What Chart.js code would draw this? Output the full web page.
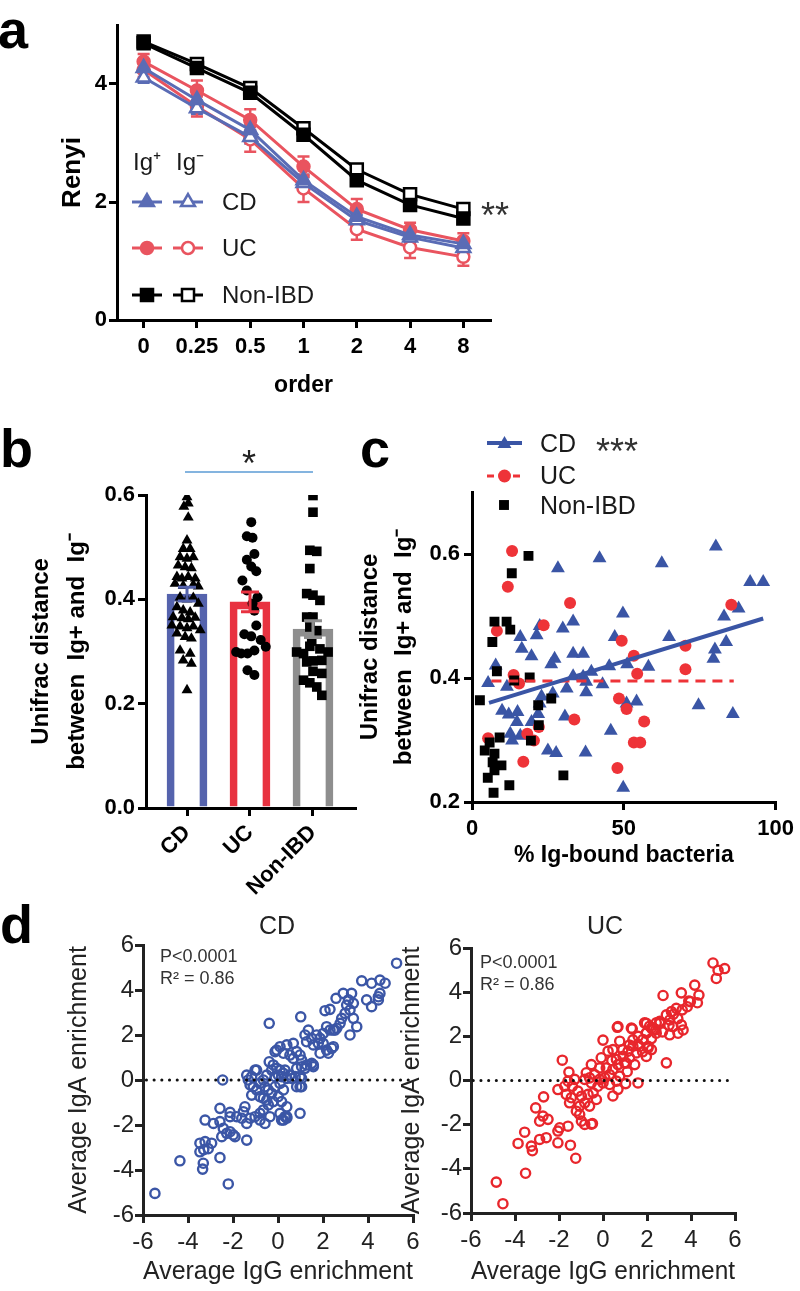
<!DOCTYPE html>
<html>
<head>
<meta charset="utf-8">
<script src="https://cdn.jsdelivr.net/npm/chart.js@4.4.0/dist/chart.umd.min.js"></script>
<style>
  body { margin: 0; background: #fff; }
  #page { position: relative; width: 800px; height: 1291px; overflow: hidden;
          font-family: "Liberation Sans", Arial, Helvetica, sans-serif; }
  canvas { position: absolute; }
  .letter { position: absolute; font-weight: bold; font-size: 54px; line-height: 54px; color: #000; }
</style>
</head>
<body>
<div id="page">
  <canvas id="chartA" width="620" height="400" style="left:0;top:0"></canvas>
  <canvas id="chartB" width="380" height="470" style="left:0;top:440px"></canvas>
  <canvas id="chartC" width="450" height="450" style="left:350px;top:420px"></canvas>
  <canvas id="chartCD" width="430" height="391" style="left:0;top:900px"></canvas>
  <canvas id="chartUC" width="400" height="391" style="left:400px;top:900px"></canvas>
  <div class="letter" style="left:-2px;top:2px">a</div>
  <div class="letter" style="left:0;top:421px">b</div>
  <div class="letter" style="left:360px;top:421px">c</div>
  <div class="letter" style="left:0;top:897px">d</div>
</div>
<script>
// ---- panel a : Renyi diversity by order
const orders = ['0', '0.25', '0.5', '1', '2', '4', '8'];
const cdIgPos  = [4.27, 3.73, 3.22, 2.37, 1.75, 1.44, 1.29];
const cdIgNeg  = [4.11, 3.59, 3.10, 2.32, 1.69, 1.40, 1.22];
const ucIgPos  = [4.38, 3.89, 3.39, 2.60, 1.88, 1.53, 1.34];
const ucIgNeg  = [4.24, 3.62, 3.06, 2.23, 1.54, 1.23, 1.07];
const nonIgPos = [4.69, 4.27, 3.85, 3.14, 2.37, 1.95, 1.72];
const nonIgNeg = [4.72, 4.34, 3.93, 3.25, 2.55, 2.13, 1.88];
const cdPosErr  = [0.08, 0.08, 0.09, 0.09, 0.08, 0.07, 0.07];
const cdNegErr  = [0.09, 0.10, 0.11, 0.10, 0.09, 0.08, 0.08];
const ucPosErr  = [0.13, 0.17, 0.18, 0.17, 0.17, 0.12, 0.13];
const ucNegErr  = [0.12, 0.17, 0.21, 0.23, 0.18, 0.18, 0.15];
const nonPosErr = [0.05, 0.05, 0.05, 0.05, 0.05, 0.05, 0.05];
const nonNegErr = [0.05, 0.05, 0.05, 0.05, 0.05, 0.05, 0.05];

// ---- panel b : unifrac distance per group
const groups = ['CD', 'UC', 'Non-IBD'];
const groupMeans = [0.410, 0.395, 0.343];
const groupErrs  = [0.013, 0.019, 0.016];
const cdDist = [0.596, 0.584, 0.578, 0.557, 0.513, 0.497, 0.497, 0.481, 0.478, 0.481, 0.465, 0.462,
  0.460, 0.443, 0.440, 0.443, 0.440, 0.430, 0.426, 0.428, 0.425, 0.404, 0.400, 0.403, 0.392, 0.385,
  0.379, 0.375, 0.366, 0.364, 0.362, 0.365, 0.350, 0.348, 0.345, 0.348, 0.341, 0.335, 0.328, 0.325,
  0.302, 0.296, 0.283, 0.277, 0.226];
const cdJitter = [0, 0.02, -0.05, 0.02, 0, -0.06, 0.05, -0.11, 0, 0.10, -0.14, -0.03,
  0.07, -0.16, -0.08, 0.02, 0.13, -0.19, -0.06, 0.10, 0.18, -0.11, 0, 0.10, 0.18, -0.16,
  -0.06, 0.05, -0.22, -0.08, 0.02, 0.13, -0.24, -0.11, 0, 0.10, 0.21, -0.16, -0.03, 0.07,
  -0.11, 0.05, -0.06, 0.07, 0];
const ucDist = [0.548, 0.521, 0.518, 0.487, 0.476, 0.463, 0.454, 0.436, 0.417, 0.404, 0.392, 0.378,
  0.350, 0.333, 0.329, 0.322, 0.309, 0.299, 0.296, 0.296, 0.302, 0.264, 0.255];
const ucJitter = [0.02, -0.05, 0.04, 0.07, -0.05, 0.02, 0.10, -0.12, -0.05, 0.12, 0.04, 0.07,
  0.10, -0.09, 0.02, 0.17, 0.25, -0.22, -0.14, -0.04, 0.07, -0.04, 0.07];
const nonDist = [0.599, 0.567, 0.494, 0.492, 0.459, 0.411, 0.408, 0.398, 0.366, 0.366, 0.347, 0.340,
  0.299, 0.296, 0.310, 0.305, 0.299, 0.280, 0.282, 0.283, 0.245, 0.240, 0.232, 0.216, 0.262, 0.258, 0.320];
const nonJitter = [0, 0, -0.05, 0.06, -0.05, -0.10, 0, 0.11, -0.10, 0, -0.05, 0.06,
  -0.26, -0.15, -0.05, 0.11, 0.24, -0.10, 0, 0.14, -0.15, -0.05, 0.06, 0.14, 0, 0.14, -0.02];

// ---- panel c : unifrac distance vs % Ig-bound bacteria  [x %, y distance]
const cdBound = [[80.3,0.612],[42,0.593],[62.5,0.585],[28.3,0.577],[91.6,0.555],[95.9,0.555],[87.8,0.512],
  [83,0.499],[49.7,0.504],[33.3,0.491],[29.9,0.48],[22.3,0.484],[21.3,0.469],[15.9,0.466],[47,0.466],
  [64.9,0.466],[83.7,0.458],[80,0.446],[79.5,0.431],[16.4,0.447],[19.6,0.435],[33.3,0.439],[36.6,0.439],
  [27.2,0.431],[26.1,0.422],[7.8,0.42],[45.2,0.419],[51.1,0.422],[58.1,0.418],[39.3,0.41],[33.3,0.403],
  [36.6,0.402],[37.6,0.394],[5.3,0.392],[11.5,0.386],[31.2,0.383],[43,0.39],[37.6,0.377],[26.6,0.375],
  [22.9,0.37],[22.3,0.359],[50.9,0.359],[54.2,0.362],[74.6,0.356],[85.9,0.342],[9.9,0.347],[12.1,0.341],
  [15,0.345],[21.8,0.342],[30.6,0.338],[14.8,0.329],[19.6,0.329],[45.7,0.315],[12.6,0.31],[15.9,0.307],
  [13.2,0.299],[25,0.283],[27.7,0.279],[37.4,0.28],[49.8,0.223]];
const ucBound = [[13.2,0.605],[11.8,0.547],[32.3,0.521],[85.4,0.518],[23.6,0.485],[8.2,0.476],[49.3,0.46],
  [70.3,0.452],[53.3,0.436],[70.3,0.414],[54.4,0.407],[13.7,0.405],[15.5,0.391],[48.4,0.367],[50.9,0.35],
  [33.7,0.333],[56.7,0.33],[22,0.321],[5.3,0.303],[18.2,0.31],[20.4,0.299],[53.3,0.296],[55.4,0.296],
  [16.9,0.265],[47.9,0.255]];
const nonBound = [[18.6,0.597],[13.1,0.569],[7.4,0.491],[11.4,0.491],[12.6,0.478],[6.7,0.458],[8.2,0.411],
  [19,0.401],[13.9,0.396],[2.6,0.364],[26.1,0.367],[21.8,0.356],[22,0.324],[19.4,0.299],[9.1,0.304],
  [5.8,0.296],[4.2,0.283],[7.4,0.278],[6.8,0.264],[9.7,0.259],[7.4,0.251],[5.2,0.239],[12.3,0.227],
  [7.1,0.215],[30.1,0.243]];
const cdFit = [[5.6, 0.36], [95.9, 0.496]];
const ucFit = [[6.4, 0.395], [86.2, 0.395]];

// ---- panel d : IgA vs IgG enrichment  [IgG, IgA]
const cdEnrich = [[-0.39,2.52],[1.01,2.81],[2.58,3.63],[2.09,3.08],[2.31,3.14],[2.16,2.37],[2.46,2.22],[2.61,2.30],
  [1.35,2.22],[1.20,2.00],[1.50,1.85],[1.72,2.00],[1.87,1.85],[1.57,1.56],[1.79,1.63],[2.01,1.63],[2.16,1.33],
  [2.39,1.41],[2.24,1.19],[1.27,1.70],[0.68,1.63],[0.39,1.56],[0.09,1.48],[-0.13,1.26],[-0.06,1.33],[0.24,1.19],
  [0.53,1.11],[0.83,1.26],[0.98,1.11],[0.68,0.96],[1.05,0.89],[1.27,0.67],[1.57,0.67],[1.20,0.52],[0.83,0.52],
  [0.76,0.15],[1.05,0.07],[0.98,-0.30],[0.83,-0.30],[0.61,0.07],[-0.39,0.81],[-0.21,0.67],[-0.06,0.52],[0.09,0.44],
  [0.24,0.30],[0.01,0.22],[-0.13,0.15],[0.16,0.15],[0.39,0.07],[0.53,0.22],[0.31,0.44],[-0.28,0.44],[-0.50,0.22],
  [-0.65,0.00],[-0.80,-0.15],[-0.58,-0.30],[-0.43,-0.44],[-0.28,-0.59],[-0.13,-0.30],[0.09,-0.15],[0.24,-0.44],
  [0.01,-0.74],[-0.21,-0.96],[-0.43,-1.11],[-0.65,-1.33],[-0.80,-1.48],[-1.02,0.44],[-1.17,0.15],[-1.32,0.00],
  [-1.24,-0.22],[-1.10,-0.30],[-0.95,-0.44],[-1.17,-0.67],[-0.80,-0.74],[-0.65,-0.81],[-0.50,-0.89],[0.16,-0.96],
  [0.39,-1.19],[0.09,-1.48],[0.24,-1.78],[0.39,-1.63],[0.98,-1.48],[-0.36,-1.63],[-0.58,-1.93],[-0.80,-1.78],
  [-1.02,-1.63],[-1.24,-1.70],[-1.39,-1.93],[-1.61,-1.70],[-1.54,-1.41],[-1.47,-1.19],[-1.84,-1.63],[-2.13,-1.63],
  [-2.58,-1.26],[-2.87,-1.93],[-3.24,-1.78],[-2.58,-1.85],[-2.43,-2.15],[-2.28,-2.37],[-2.13,-2.30],[-1.99,-2.44],
  [-2.50,-2.52],[-1.39,-2.67],[-2.95,-2.81],[-3.24,-2.74],[-3.47,-2.81],[-1.91,-2.52],[-2.46,0.00],[-5.47,-5.04],
  [-4.36,-3.59],[-2.21,-4.62],[-3.35,-3.96],[-3.32,-3.70],[-3.47,-3.19],[-3.30,-3.10],[-3.10,-3.05],[-2.58,-3.45],
  [-2.13,-1.44],[2.90,3.85],[3.27,3.85],[3.13,3.56],[3.05,3.33],[3.35,3.41],[3.20,3.11],[2.98,2.96],[3.35,2.74],
  [2.83,2.74],[2.76,2.52],[2.53,2.22],[3.50,2.37],[3.20,2.00],[3.72,4.41],[4.16,4.30],[4.53,4.44],[4.76,4.30],
  [3.94,3.56],[4.16,3.26],[4.46,3.56],[4.53,3.85],[4.46,3.70],[5.27,5.19],[2.01,2.07],[2.31,2.22],[2.46,1.48],
  [1.87,1.19],[1.50,0.74],[1.57,0.59],[1.05,0.59],[0.98,0.15],[1.05,-0.30],[0.39,-1.70],[0.16,-1.78],[0.31,-1.63],
  [-0.95,0.44],[-1.39,0.22]];
const ucEnrich = [[2.73,3.85],[0.65,2.41],[1.33,2.34],[0.00,1.83],[0.76,1.78],[0.45,1.40],[0.23,1.33],[-0.08,1.03],
  [-1.85,0.92],[-0.53,0.72],[-0.15,0.57],[0.15,0.57],[0.61,0.95],[0.91,1.10],[1.14,1.33],[1.36,1.55],[1.59,1.63],
  [1.82,1.86],[1.97,2.16],[2.12,2.46],[2.42,2.61],[2.58,2.68],[1.89,2.61],[2.27,2.31],[2.05,1.55],[2.20,1.40],
  [1.52,1.25],[1.21,1.03],[0.98,0.80],[0.68,0.72],[0.45,0.50],[0.30,0.27],[0.08,0.12],[-0.15,0.05],[-0.38,0.27],
  [-0.61,0.12],[-0.76,0.35],[-0.83,0.05],[-0.53,-0.11],[-0.23,-0.26],[0.00,-0.11],[0.30,-0.18],[0.61,-0.03],
  [0.76,0.20],[1.03,-0.14],[1.59,-0.11],[2.88,0.80],[-1.55,0.38],[-1.59,-0.03],[-1.29,0.05],[-1.74,-0.26],
  [-1.39,-0.26],[-2.05,-0.41],[-1.67,-0.63],[-1.44,-0.78],[-1.14,-0.48],[-0.98,-0.71],[-0.68,-0.63],[-0.45,-0.56],
  [-0.30,-0.86],[-0.61,-1.16],[-0.83,-1.01],[-1.06,-1.16],[-1.21,-1.39],[-1.52,-1.01],[-1.06,-1.54],[-0.98,-1.84],
  [-0.83,-1.99],[-0.48,-1.95],[-1.59,-2.07],[-1.97,-2.14],[-2.05,-2.29],[-2.50,-1.76],[-2.73,-1.61],[-2.88,-1.84],
  [-3.06,-1.24],[-2.70,-0.74],[-3.56,-2.34],[-2.58,-2.59],[-2.88,-2.67],[-3.26,-2.97],[-3.86,-2.85],[-2.05,-2.82],
  [-1.48,-2.93],[-4.85,-4.60],[-4.55,-5.58],[-3.52,-4.20],[-3.21,-3.18],[-1.24,-3.52],[5.00,5.32],[5.53,5.07],
  [5.23,4.99],[5.15,4.62],[4.17,4.32],[4.36,3.87],[3.97,3.57],[3.56,3.97],[3.83,3.34],[4.29,3.52],[3.33,3.27],
  [3.11,3.12],[2.88,2.97],[3.03,2.74],[3.18,2.44],[3.56,2.52],[3.64,2.29],[3.41,2.14],[3.03,2.07],[2.58,2.59],
  [2.20,2.37],[2.42,2.14],[1.97,2.14],[1.97,2.59],[0.68,2.44],[1.29,2.37],[1.36,1.84],[1.67,1.54],[2.05,1.47],
  [1.97,1.09],[1.44,0.72],[1.06,0.79],[0.68,-0.40],[0.45,-0.70],[-0.53,-1.98],[0.90,1.40],[1.20,1.60],[1.60,2.00],
  [1.80,1.30],[1.10,0.40],[0.40,0.90],[2.40,2.30],[2.20,1.90],[3.20,3.00],[3.40,2.80],[3.60,3.20],[3.90,3.60],
  [3.00,2.50],[2.70,2.20]];
const zeroLineCD = [[-5.85, 0], [6, 0]];
const zeroLineUC = [[-5.9, 0], [6, 0]];
const enrichTicks = [-6, -4, -2, 0, 2, 4, 6];

// ------------------------------------------------------------------
const FONT = '"Liberation Sans", Arial, Helvetica, sans-serif';
Chart.defaults.font.family = FONT;
Chart.defaults.color = '#000';
Chart.defaults.animation = false;
Chart.defaults.plugins.legend.display = false;
Chart.defaults.plugins.tooltip.enabled = false;

const BLUE_A = '#5a6cb5', RED_A = '#e9545f';
const BLUE_B = '#5563ad', RED_B = '#e83240', GREY_B = '#8e8e8e';
const BLUE_C = '#3a55a5', RED_C = '#ee3338';
const BLUE_D = '#3b56a6', RED_D = '#e8262c';

const fixW = w => s => { s.width = w; };
const fixH = h => s => { s.height = h; };
const setTicks = vals => s => { s.ticks = vals.map(v => ({ value: v })); };
const tickGrid = (color, lw) => ({ display: true, drawOnChartArea: false, drawTicks: true, tickLength: 8, color, lineWidth: lw });
const edge = (color, lw) => ({ display: true, color, width: lw });
const xy = pairs => pairs.map(p => ({ x: p[0], y: p[1] }));

function marker(ctx, style, r, x, y, fill, stroke, bw) {
  ctx.fillStyle = fill;
  ctx.strokeStyle = stroke;
  ctx.lineWidth = bw;
  Chart.helpers.drawPoint(ctx, { pointStyle: style, radius: r, rotation: 0, borderWidth: bw }, x, y);
}
function label(ctx, s, x, y, font, align, color, base) {
  ctx.font = font;
  ctx.fillStyle = color || '#000';
  ctx.textAlign = align || 'left';
  ctx.textBaseline = base || 'middle';
  ctx.fillText(s, x, y);
}
function overlay(id, draw) {
  return { id, afterDraw(chart) { const ctx = chart.ctx; ctx.save(); draw(chart, ctx); ctx.restore(); } };
}

// ---- a
function lineSet(data, errs, color, style, r, filled) {
  return { data, errs, borderColor: color, backgroundColor: color, borderWidth: 3, tension: 0, fill: false,
    pointStyle: style, pointRadius: r, pointBorderWidth: 2.5, pointBorderColor: color,
    pointBackgroundColor: filled ? color : '#fff' };
}
const errorBarsA = {
  id: 'errorBarsA',
  beforeDatasetsDraw(chart) {
    const ctx = chart.ctx, ys = chart.scales.y;
    ctx.save();
    chart.data.datasets.forEach((ds, i) => {
      chart.getDatasetMeta(i).data.forEach((pt, j) => {
        const top = ys.getPixelForValue(ds.data[j] + ds.errs[j]);
        const bot = ys.getPixelForValue(ds.data[j] - ds.errs[j]);
        ctx.strokeStyle = ds.borderColor;
        ctx.lineWidth = 2.5;
        ctx.beginPath();
        ctx.moveTo(pt.x, top); ctx.lineTo(pt.x, bot);
        ctx.moveTo(pt.x - 6, top); ctx.lineTo(pt.x + 6, top);
        ctx.moveTo(pt.x - 6, bot); ctx.lineTo(pt.x + 6, bot);
        ctx.stroke();
      });
    });
    ctx.restore();
  }
};
const legendA = overlay('legendA', (chart, ctx) => {
  const f = '24px ' + FONT;
  label(ctx, 'Ig\u207A', 147, 163, f, 'center', '#1a1a1a');
  label(ctx, 'Ig\u207B', 190, 163, f, 'center', '#1a1a1a');
  const rows = [
    { text: 'CD', color: BLUE_A, style: 'triangle', r: 8, y: 202 },
    { text: 'UC', color: RED_A, style: 'circle', r: 6, y: 248 },
    { text: 'Non-IBD', color: '#000', style: 'rect', r: 8.5, y: 295 }
  ];
  rows.forEach(row => {
    [[132, 162, true], [173, 203, false]].forEach(([x0, x1, filled]) => {
      ctx.strokeStyle = row.color;
      ctx.lineWidth = 3;
      ctx.beginPath(); ctx.moveTo(x0, row.y); ctx.lineTo(x1, row.y); ctx.stroke();
      marker(ctx, row.style, row.r, (x0 + x1) / 2, row.y, filled ? row.color : '#fff', row.color, 2.5);
    });
    label(ctx, row.text, 222, row.y + 1, f, 'left', '#1a1a1a');
  });
  label(ctx, '**', 481, 228, '36px ' + FONT, 'left', '#333', 'alphabetic');
});

new Chart(document.getElementById('chartA'), {
  type: 'line',
  data: {
    labels: orders,
    datasets: [
      lineSet(nonIgPos, nonPosErr, '#000', 'rect', 8.5, true),
      lineSet(nonIgNeg, nonNegErr, '#000', 'rect', 8.5, false),
      lineSet(cdIgPos, cdPosErr, BLUE_A, 'triangle', 8, true),
      lineSet(cdIgNeg, cdNegErr, BLUE_A, 'triangle', 8, false),
      lineSet(ucIgPos, ucPosErr, RED_A, 'circle', 6, true),
      lineSet(ucIgNeg, ucNegErr, RED_A, 'circle', 6, false)
    ]
  },
  options: {
    responsive: false,
    layout: { padding: { top: 25, right: 130, left: 0, bottom: 0 } },
    scales: {
      x: {
        type: 'category', offset: true,
        grid: Object.assign(tickGrid('#000', 3), { offset: false }),
        border: edge('#000', 3),
        ticks: { font: { size: 22, weight: 'bold' }, padding: 6, color: '#000' },
        title: { display: true, text: 'order', font: { size: 23, weight: 'bold' }, padding: { top: 0, bottom: 1 } },
        afterFit: fixH(80)
      },
      y: {
        min: 0, max: 5,
        afterBuildTicks: setTicks([0, 2, 4]),
        grid: tickGrid('#000', 3),
        border: edge('#000', 3),
        ticks: { font: { size: 22, weight: 'bold' }, padding: 2, color: '#000' },
        title: { display: true, text: 'Renyi', font: { size: 26, weight: 'bold' }, padding: { top: 57, bottom: 0 } },
        afterFit: fixW(117)
      }
    }
  },
  plugins: [errorBarsA, legendA]
});

// ---- b
const barColors = [BLUE_B, RED_B, GREY_B];
const errorBarsB = overlay('errorBarsB', (chart, ctx) => {
  const xs = chart.scales.x, ys = chart.scales.y;
  groupMeans.forEach((m, i) => {
    const x = xs.getPixelForValue(i + 1);
    const top = ys.getPixelForValue(m + groupErrs[i]);
    const bot = ys.getPixelForValue(m - groupErrs[i]);
    ctx.strokeStyle = barColors[i];
    ctx.lineWidth = 3;
    ctx.beginPath();
    ctx.moveTo(x, top); ctx.lineTo(x, bot);
    ctx.moveTo(x - 9, top); ctx.lineTo(x + 9, top);
    ctx.moveTo(x - 9, bot); ctx.lineTo(x + 9, bot);
    ctx.stroke();
  });
  // significance bracket between CD and Non-IBD
  const x0 = xs.getPixelForValue(1) - 2, x1 = xs.getPixelForValue(3);
  ctx.strokeStyle = '#5b9bd5';
  ctx.lineWidth = 1.5;
  ctx.beginPath(); ctx.moveTo(x0, 32); ctx.lineTo(x1, 32); ctx.stroke();
  label(ctx, '*', (x0 + x1) / 2, 36, '36px ' + FONT, 'center', '#222', 'alphabetic');
});

new Chart(document.getElementById('chartB'), {
  type: 'bar',
  data: {
    datasets: [
      { type: 'bar', data: groupMeans.map((v, i) => ({ x: i + 1, y: v })), backgroundColor: 'rgba(0,0,0,0)',
        borderColor: barColors, borderWidth: 7, barThickness: 40, order: 3 },
      { type: 'scatter', data: cdDist.map((v, i) => ({ x: 1 + cdJitter[i], y: v })), pointStyle: 'triangle',
        pointRadius: 6.3, backgroundColor: '#000', borderColor: '#000', borderWidth: 0, order: 1 },
      { type: 'scatter', data: ucDist.map((v, i) => ({ x: 2 + ucJitter[i], y: v })), pointStyle: 'circle',
        pointRadius: 5, backgroundColor: '#000', borderColor: '#000', borderWidth: 0, order: 1 },
      { type: 'scatter', data: nonDist.map((v, i) => ({ x: 3 + nonJitter[i], y: v })), pointStyle: 'rect',
        pointRadius: 6.8, backgroundColor: '#000', borderColor: '#000', borderWidth: 0, order: 1 }
    ]
  },
  options: {
    responsive: false,
    layout: { padding: { top: 55, right: 25, left: 0, bottom: 0 } },
    scales: {
      x: {
        type: 'linear', min: 0.349, max: 3.667, offset: false,
        afterBuildTicks: setTicks([1, 2, 3]),
        grid: Object.assign(tickGrid('#000', 3), { offset: false }),
        border: edge('#000', 3),
        ticks: { font: { size: 22, weight: 'bold' }, minRotation: 45, maxRotation: 45, padding: 4, color: '#000',
                 callback: (v, i) => groups[i] },
        afterFit: fixH(102)
      },
      y: {
        min: 0, max: 0.6,
        afterBuildTicks: setTicks([0, 0.2, 0.4, 0.6]),
        grid: tickGrid('#000', 3),
        border: edge('#000', 3),
        ticks: { font: { size: 22, weight: 'bold' }, padding: 3, color: '#000', callback: v => v.toFixed(1) },
        title: { display: true, text: ['Unifrac distance', 'between  Ig+ and  Ig\u207B'],
                 font: { size: 24, weight: 'bold', lineHeight: 1.5 }, padding: { top: 23, bottom: 0 } },
        afterFit: fixW(146)
      }
    }
  },
  plugins: [errorBarsB]
});

// ---- c
const legendC = overlay('legendC', (chart, ctx) => {
  const f = '25px ' + FONT;
  ctx.strokeStyle = BLUE_C; ctx.lineWidth = 4;
  ctx.beginPath(); ctx.moveTo(137, 23); ctx.lineTo(172, 23); ctx.stroke();
  marker(ctx, 'triangle', 8, 154.5, 24, BLUE_C, BLUE_C, 0);
  label(ctx, 'CD', 190, 25, f, 'left', '#1a1a1a');
  label(ctx, '***', 246, 44, '36px ' + FONT, 'left', '#333', 'alphabetic');
  ctx.strokeStyle = RED_C; ctx.lineWidth = 3; ctx.setLineDash([7, 6]);
  ctx.beginPath(); ctx.moveTo(137, 56); ctx.lineTo(172, 56); ctx.stroke();
  ctx.setLineDash([]);
  marker(ctx, 'circle', 6.5, 154.5, 56, RED_C, RED_C, 0);
  label(ctx, 'UC', 190, 57, f, 'left', '#1a1a1a');
  marker(ctx, 'rect', 7, 154, 85, '#000', '#000', 0);
  label(ctx, 'Non-IBD', 190, 87, f, 'left', '#1a1a1a');
});

new Chart(document.getElementById('chartC'), {
  type: 'scatter',
  data: {
    datasets: [
      { type: 'line', data: xy(cdFit), borderColor: BLUE_C, borderWidth: 4, pointRadius: 0, order: 0 },
      { type: 'line', data: xy(ucFit), borderColor: RED_C, borderWidth: 3, borderDash: [10, 7], pointRadius: 0, order: 0 },
      { data: xy(nonBound), pointStyle: 'rect', pointRadius: 7, backgroundColor: '#000', borderWidth: 0, order: 1 },
      { data: xy(ucBound), pointStyle: 'circle', pointRadius: 6, backgroundColor: RED_C, borderWidth: 0, order: 2 },
      { data: xy(cdBound), pointStyle: 'triangle', pointRadius: 8, backgroundColor: BLUE_C, borderWidth: 0, order: 3 }
    ]
  },
  options: {
    responsive: false,
    layout: { padding: { top: 72, right: 19, left: 0, bottom: 0 } },
    scales: {
      x: {
        type: 'linear', min: 0, max: 100,
        afterBuildTicks: setTicks([0, 50, 100]),
        grid: tickGrid('#000', 3),
        border: edge('#000', 3),
        ticks: { font: { size: 22, weight: 'bold' }, padding: 6, color: '#000' },
        title: { display: true, text: '% Ig-bound bacteria', font: { size: 23, weight: 'bold' }, padding: { top: 0, bottom: 1 } },
        afterFit: fixH(68)
      },
      y: {
        min: 0.2, max: 0.7,
        afterBuildTicks: setTicks([0.2, 0.4, 0.6]),
        grid: tickGrid('#000', 3),
        border: edge('#000', 3),
        ticks: { font: { size: 22, weight: 'bold' }, padding: 4, color: '#000', callback: v => v.toFixed(1) },
        title: { display: true, text: ['Unifrac distance', 'between  Ig+ and  Ig\u207B'],
                 font: { size: 24, weight: 'bold', lineHeight: 1.42 }, padding: { top: 3, bottom: 0 } },
        afterFit: fixW(122)
      }
    }
  },
  plugins: [legendC]
});

// ---- d
function enrichChart(id, pairs, zero, color, title, cfg) {
  const notes = overlay('notes' + title, (chart, ctx) => {
    label(ctx, title, cfg.titleX, 27, '25px ' + FONT, 'center', '#222');
    label(ctx, 'P<0.0001', cfg.noteX, cfg.noteY, '18px ' + FONT, 'left', '#333');
    label(ctx, 'R\u00B2 = 0.86', cfg.noteX, cfg.noteY + 22, '18px ' + FONT, 'left', '#333');
  });
  new Chart(document.getElementById(id), {
    type: 'scatter',
    data: {
      datasets: [
        { type: 'line', data: xy(zero), borderColor: '#111', borderWidth: 3, borderDash: [0.1, 7.6],
          borderCapStyle: 'round', pointRadius: 0, order: 0 },
        { data: xy(pairs), pointStyle: 'circle', pointRadius: 4.6, borderWidth: 2.4,
          borderColor: color, backgroundColor: 'rgba(0,0,0,0)', order: 1 }
      ]
    },
    options: {
      responsive: false,
      layout: { padding: { top: cfg.top, right: cfg.right, left: 0, bottom: 0 } },
      scales: {
        x: {
          type: 'linear', min: -6, max: 6,
          afterBuildTicks: setTicks(enrichTicks),
          grid: tickGrid('#222', 3),
          border: edge('#222', 3),
          ticks: { font: { size: 24 }, padding: 5, color: '#222' },
          title: { display: true, text: 'Average IgG enrichment', color: '#222', font: { size: 25 }, padding: { top: 0, bottom: 4 } },
          afterFit: fixH(cfg.xh)
        },
        y: {
          min: -6, max: 6,
          afterBuildTicks: setTicks(enrichTicks),
          grid: tickGrid('#222', 3),
          border: edge('#222', 3),
          ticks: { font: { size: 24 }, padding: 1, color: '#222' },
          title: { display: true, text: 'Average IgA enrichment', color: '#222', font: { size: 25, lineHeight: 1 },
                   padding: { top: cfg.ytPad, bottom: 0 } },
          afterFit: fixW(cfg.yw)
        }
      }
    },
    plugins: [notes]
  });
}
enrichChart('chartCD', cdEnrich, zeroLineCD, BLUE_D, 'CD',
  { top: 45, right: 17, xh: 76, yw: 143, ytPad: 67, titleX: 277, noteX: 160, noteY: 57 });
enrichChart('chartUC', ucEnrich, zeroLineUC, RED_D, 'UC',
  { top: 48, right: 65, xh: 78, yw: 71, ytPad: 0, titleX: 205, noteX: 80, noteY: 63 });
</script>
</body>
</html>
